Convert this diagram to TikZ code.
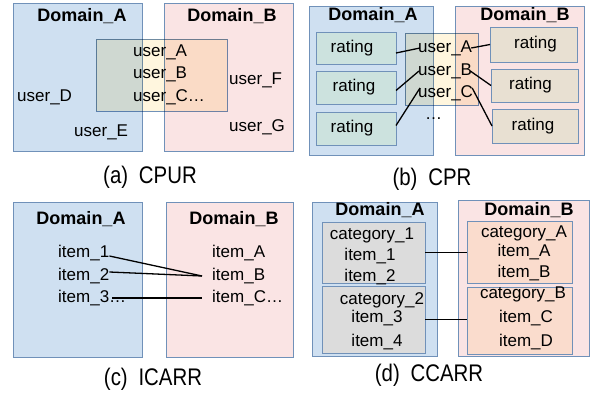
\documentclass[tikz,border=0pt]{standalone}
\usepackage{fontspec}
\setmainfont{Liberation Sans}
\newfontfamily\capfont[FakeStretch=0.85]{Liberation Sans}
\definecolor{domA}{RGB}{207,224,241}
\definecolor{domB}{RGB}{250,228,228}
\definecolor{bord}{RGB}{112,145,185}
\definecolor{ovl}{RGB}{255,246,222}
\definecolor{ratL}{RGB}{204,226,222}
\definecolor{ratR}{RGB}{232,224,210}
\definecolor{catL}{RGB}{220,220,220}
\definecolor{catR}{RGB}{250,220,205}
\begin{document}
\begin{tikzpicture}[x=1pt,y=-1pt,
  box/.style={draw=bord, line width=0.9pt, inner sep=0pt, outer sep=0pt, anchor=north west},
  txt/.style={font=\fontsize{17}{20}\selectfont, inner sep=0pt},
  ttl/.style={font=\bfseries\fontsize{18}{20}\selectfont, inner sep=0pt},
  captxt/.style={font=\capfont\fontsize{24}{28}\selectfont, inner sep=0pt},
  conn/.style={line width=1.3pt, black}]
\useasboundingbox (0,0) rectangle (591,396);
% ---------------- (a) CPUR
\node[box, fill=domA, minimum width=129pt, minimum height=148pt] (aA) at (13,3) {};
\node[box, fill=domB, minimum width=129pt, minimum height=148pt] (aB) at (164,3) {};
\begin{scope}[blend mode=multiply]
\node[box, fill=ovl, minimum width=131pt, minimum height=72pt] (aO) at (96,39) {};
\end{scope}
\node[ttl] (aAt) at (82,16) {Domain\_A};
\node[ttl] (aBt) at (232,16) {Domain\_B};
\node[txt, anchor=west] (aua) at (133,52) {user\_A};
\node[txt, anchor=west] (aub) at (133,74) {user\_B};
\node[txt, anchor=west] (auc) at (133,97) {user\_C…};
\node[txt, anchor=west] (aud) at (17,97) {user\_D};
\node[txt, anchor=west] (aue) at (74,132) {user\_E};
\node[txt, anchor=west] (auf) at (229,80) {user\_F};
\node[txt, anchor=west] (aug) at (229,127) {user\_G};
\node[captxt] (acap) at (150,177) {(a)\hspace{0.45em}CPUR};
% ---------------- (b) CPR
\node[box, fill=domA, minimum width=124pt, minimum height=149pt] (bA) at (309,6) {};
\node[box, fill=domB, minimum width=129pt, minimum height=149pt] (bB) at (455,6) {};
\begin{scope}[blend mode=multiply]
\node[box, fill=ovl, minimum width=73pt, minimum height=72pt] (bO) at (405,33) {};
\end{scope}
\node[ttl] (bAt) at (373,15) {Domain\_A};
\node[ttl] (bBt) at (525,15) {Domain\_B};
\node[box, fill=ratL, minimum width=80pt, minimum height=32pt] (rl1) at (316,32) {};
\node[box, fill=ratL, minimum width=80pt, minimum height=33pt] (rl2) at (316,71) {};
\node[box, fill=ratL, minimum width=80pt, minimum height=33pt] (rl3) at (316,112) {};
\node[box, fill=ratR, minimum width=87pt, minimum height=35pt] (rr1) at (490,27) {};
\node[box, fill=ratR, minimum width=87pt, minimum height=33pt] (rr2) at (491,69) {};
\node[box, fill=ratR, minimum width=86pt, minimum height=34pt] (rr3) at (492,109) {};
\node[txt] (rl1t) at ([xshift=-4pt]rl1.center) {rating};
\node[txt] (rl2t) at ([xshift=-2pt]rl2.center) {rating};
\node[txt] (rl3t) at ([xshift=-4pt]rl3.center) {rating};
\node[txt] (rr1t) at ([xshift=2pt]rr1.center) {rating};
\node[txt] (rr2t) at ([xshift=-4pt]rr2.center) {rating};
\node[txt] (rr3t) at ([xshift=-2pt]rr3.center) {rating};
\node[txt, anchor=west] (bua) at (418,48) {user\_A};
\node[txt, anchor=west] (bub) at (418,71) {user\_B};
\node[txt, anchor=west] (buc) at (418,93) {user\_C};
\node[txt, anchor=west] (bdots) at (425,119) {…};
\draw[conn] ([yshift=-5pt]rl1.east) -- ([xshift=2pt]bua.west);
\draw[conn] ([yshift=-3pt]rl2.east) -- ([xshift=1pt]bub.west);
\draw[conn] ([yshift=3pt]rl3.east) -- ([xshift=2pt,yshift=5pt]buc.west);
\draw[conn] ([xshift=-1pt]bua.east) -- (rr1.west);
\draw[conn] ([xshift=-2pt]bub.east) -- (rr2.west);
\draw[conn] ([xshift=-1pt,yshift=5pt]buc.east) -- (rr3.west);
\node[captxt] (bcap) at (432,179) {(b)\hspace{0.45em}CPR};
% ---------------- (c) ICARR
\node[box, fill=domA, minimum width=129pt, minimum height=155pt] (cA) at (13,202) {};
\node[box, fill=domB, minimum width=127pt, minimum height=155pt] (cB) at (166,202) {};
\node[ttl] (cAt) at (81,219) {Domain\_A};
\node[ttl] (cBt) at (234,219) {Domain\_B};
\node[txt, anchor=west] (ci1) at (58,253) {item\_1};
\node[txt, anchor=west] (ci2) at (58,276) {item\_2};
\node[txt, anchor=west] (ci3) at (58,298) {item\_3…};
\node[txt, anchor=west] (ciA) at (212,253) {item\_A};
\node[txt, anchor=west] (ciB) at (212,276) {item\_B};
\node[txt, anchor=west] (ciC) at (212,298) {item\_C…};
\draw[conn] ([yshift=-3pt]ci1.east) -- ([xshift=-10pt]ciB.west);
\draw[conn] ([yshift=4pt]ci2.east) -- ([xshift=-10pt]ciB.west);
\draw[conn] ([xshift=54pt]ci3.west) -- ([xshift=-10pt]ciC.west);
\node[captxt] (ccap) at (153,379) {(c)\hspace{0.45em}ICARR};
% ---------------- (d) CCARR
\node[box, fill=domA, minimum width=125pt, minimum height=154pt] (dA) at (312,202) {};
\node[box, fill=domB, minimum width=131pt, minimum height=156pt] (dB) at (458,200) {};
\node[ttl] (dAt) at (380,210) {Domain\_A};
\node[ttl] (dBt) at (529,210) {Domain\_B};
\node[box, fill=catL, minimum width=103pt, minimum height=61pt] (dc1) at (322,222) {};
\node[box, fill=catL, minimum width=103pt, minimum height=67pt] (dc2) at (322,286) {};
\node[box, fill=catR, minimum width=105pt, minimum height=62pt] (dr1) at (467,221) {};
\node[box, fill=catR, minimum width=105pt, minimum height=67pt] (dr2) at (467,287) {};
\node[txt] (dcat1) at (372,235) {category\_1};
\node[txt] (di1) at (370,256) {item\_1};
\node[txt] (di2) at (370,277) {item\_2};
\node[txt] (dcat2) at (382,300) {category\_2};
\node[txt] (di3) at (377,318) {item\_3};
\node[txt] (di4) at (377,342) {item\_4};
\node[txt] (dcatA) at (524,233) {category\_A};
\node[txt] (diA) at (524,252) {item\_A};
\node[txt] (diB) at (524,273) {item\_B};
\node[txt] (dcatB) at (523,294) {category\_B};
\node[txt] (diC) at (526,318) {item\_C};
\node[txt] (diD) at (526,342) {item\_D};
\draw[conn] (dc1.east) -- (dc1.east -| dr1.west);
\draw[conn] (dc2.east) -- (dc2.east -| dr2.west);
\node[captxt] (dcap) at (429,375) {(d)\hspace{0.45em}CCARR};
\end{tikzpicture}
\end{document}
